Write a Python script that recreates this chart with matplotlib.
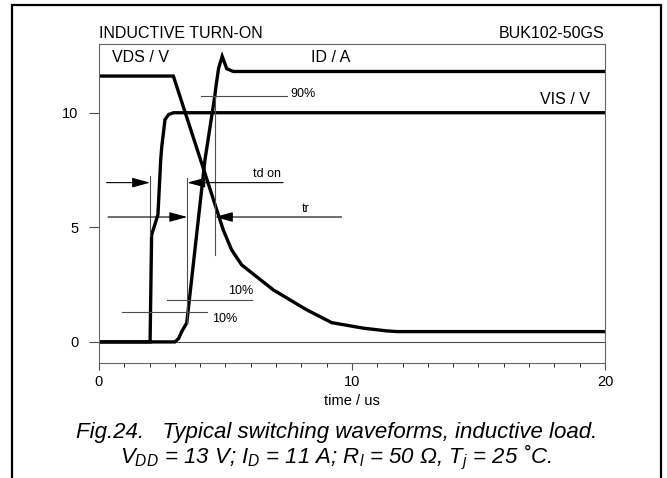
import matplotlib
matplotlib.use("Agg")
import matplotlib.pyplot as plt
from matplotlib.patches import Rectangle

plt.rcParams['font.family'] = ['Liberation Sans', 'DejaVu Sans']
plt.rcParams['mathtext.fontset'] = 'custom'
plt.rcParams['mathtext.it'] = 'Liberation Sans:italic'
plt.rcParams['mathtext.rm'] = 'Liberation Sans:italic'

# waveforms (time in us)
vis_t = [0, 2.02, 2.08, 2.33, 2.44, 2.48, 2.61, 2.75, 2.95, 20]
vis_v = [0, 0, 4.67, 5.55, 7.95, 8.5, 9.7, 9.92, 10.0, 10.0]

vds_t = [0, 2.94, 4.19, 4.91, 5.24, 5.64, 6.89, 8.21, 9.2, 10.45, 11.37, 11.8, 20]
vds_v = [11.6, 11.6, 7.35, 4.89, 4.02, 3.36, 2.27, 1.40, 0.84, 0.6, 0.48, 0.45, 0.45]

id_t = [0, 3.0, 3.15, 3.27, 3.47, 4.19, 4.58, 4.63, 4.73, 4.87, 5.05, 5.31, 20]
id_a = [0, 0, 0.15, 0.45, 0.83, 7.95, 10.74, 11.2, 11.95, 12.46, 11.92, 11.8, 11.8]

fig = plt.figure(figsize=(6.67, 4.78), dpi=100)
ax = fig.add_axes([0.1484, 0.2406, 0.7586, 0.6674])

# outer frame of the figure box
fig.patches.append(Rectangle((0.018, -0.05), 0.973, 1.04, transform=fig.transFigure,
                             fill=False, lw=1.6, ec='k'))

ax.plot(vis_t, vis_v, color='k', lw=2.4, solid_joinstyle='miter')
ax.plot(vds_t, vds_v, color='k', lw=2.4, solid_joinstyle='miter')
ax.plot(id_t, id_a, color='k', lw=2.4, solid_joinstyle='miter')
ax.axhline(0, color='0.3', lw=0.8, zorder=0)

thin = dict(color='0.3', lw=0.8)
# 90% / 10% levels
ax.plot([4.02, 7.42], [10.74, 10.74], **thin)
ax.text(7.55, 10.8, '90%', fontsize=9, va='center', ha='left')
ax.plot([2.68, 6.04], [1.83, 1.83], **thin)
ax.text(6.09, 2.2, '10%', fontsize=9, va='center', ha='right')
ax.plot([0.9, 4.27], [1.30, 1.30], **thin)
ax.text(4.45, 1.02, '10%', fontsize=9, va='center', ha='left')

# marker verticals
ax.plot([2.02, 2.02], [7.25, 4.6], **thin)
ax.plot([3.49, 3.49], [7.16, 0.83], **thin)
ax.plot([4.58, 4.58], [10.74, 3.8], **thin)

arrow = dict(arrowstyle='-|>,head_length=1.1,head_width=0.3', color='k', lw=0.8,
             shrinkA=0, shrinkB=0)
ax.annotate('', xy=(2.02, 6.95), xytext=(0.3, 6.95), arrowprops=arrow)
ax.annotate('', xy=(3.49, 6.95), xytext=(7.28, 6.95), arrowprops=arrow)
ax.text(6.65, 7.05, 'td on', fontsize=9, ha='center', va='bottom')
ax.annotate('', xy=(3.49, 5.45), xytext=(0.36, 5.45), arrowprops=arrow)
ax.annotate('', xy=(4.58, 5.45), xytext=(9.59, 5.45), arrowprops=arrow)
ax.text(8.18, 5.55, 'tr', fontsize=9, ha='center', va='bottom')

# curve names
ax.text(0.5, 12.4, 'VDS / V', fontsize=11.5, va='center')
ax.text(8.4, 12.4, 'ID / A', fontsize=11.5, va='center')
ax.text(19.4, 10.57, 'VIS / V', fontsize=11.5, va='center', ha='right')

ax.set_xlim(0, 20)
ax.set_ylim(-0.92, 13)
ax.set_xticks([0, 10, 20])
ax.set_xticks(range(0, 21), minor=True)
ax.set_yticks([0, 5, 10])
ax.tick_params(axis='both', labelsize=10.5, color='0.3', width=0.8)
ax.tick_params(axis='x', which='major', length=5)
ax.tick_params(axis='x', which='minor', length=3)
ax.tick_params(axis='y', length=7, pad=8)
for s in ax.spines.values():
    s.set_color('0.4')
    s.set_linewidth(0.8)
ax.set_xlabel('time / us', fontsize=10.5, labelpad=4)

ax.text(0, 1.01, 'INDUCTIVE TURN-ON', transform=ax.transAxes, fontsize=11.5, va='bottom')
ax.text(1, 1.01, 'BUK102-50GS', transform=ax.transAxes, fontsize=11.5, va='bottom', ha='right')

fig.text(0.504, 0.083, 'Fig.24.   Typical switching waveforms, inductive load.',
         fontsize=16, style='italic', ha='center', va='baseline')
fig.text(0.504, 0.030,
         r'$V_{DD}$ = 13 V; $I_D$ = 11 A; $R_l$ = 50 $\Omega$, $T_j$ = 25 ˚C.',
         fontsize=16, style='italic', ha='center', va='baseline')

fig.savefig('out.png', dpi=100)
